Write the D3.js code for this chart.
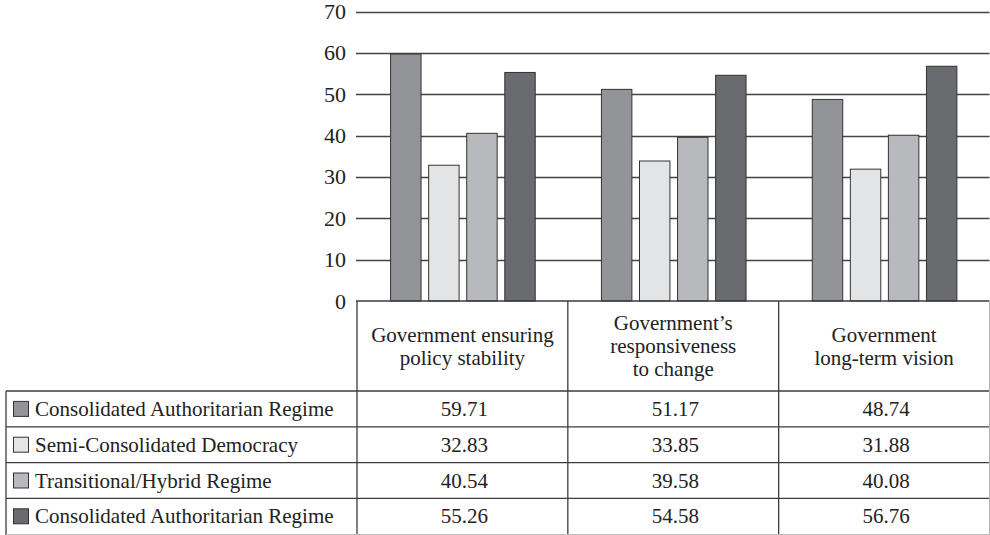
<!DOCTYPE html>
<html>
<head>
<meta charset="utf-8">
<script src="https://cdn.jsdelivr.net/npm/d3@7"></script>
<style>
  html, body { margin: 0; padding: 0; background: #fff; }
  svg { display: block; font-family: "Liberation Serif", "Times New Roman", serif; }
</style>
</head>
<body>
<svg id="chart" width="990" height="535"></svg>
<script>
// Survey indicators (columns of the chart and the table)
const categories = ["policy", "responsiveness", "vision"];
const categoryLabels = [
  ["Government ensuring", "policy stability"],
  ["Government\u2019s", "responsiveness", "to change"],
  ["Government", "long-term vision"]
];

// Regime types (rows of the table)
const seriesNames = [
  "Consolidated Authoritarian Regime",
  "Semi-Consolidated Democracy",
  "Transitional/Hybrid Regime",
  "Consolidated Authoritarian Regime"
];

// Scores per regime type, one value per indicator
const seriesA = [59.71, 51.17, 48.74];
const seriesB = [32.83, 33.85, 31.88];
const seriesC = [40.54, 39.58, 40.08];
const seriesD = [55.26, 54.58, 56.76];
const seriesValues = [seriesA, seriesB, seriesC, seriesD];

const yTicks = [0, 10, 20, 30, 40, 50, 60, 70];

const fills = ["#939497", "#e3e4e6", "#b8b9bc", "#6a6b6f"];
const ink = "#222";
const lineCol = "#3c3c3c";
const serif = "'Liberation Serif', 'Times New Roman', serif";

const svg = d3.select("#chart");

// layout
const plotLeft = 357, plotRight = 989.5;
const yTop = 11.5, yZero = 301;
const tableLeft = 6;
const headerBottom = 391;
const rowH = 35.8;

const x0 = d3.scaleBand().domain(categories).range([plotLeft, plotRight]).paddingInner(0).paddingOuter(0);
const x1 = d3.scaleBand().domain(d3.range(seriesNames.length))
  .range([0, x0.bandwidth()]).paddingInner(0.2).paddingOuter(0.87);
const y = d3.scaleLinear().domain([0, 70]).range([yZero, yTop]);

// gridlines
svg.append("g").selectAll("line").data(yTicks.filter(d => d > 0)).join("line")
  .attr("x1", plotLeft - 1).attr("x2", plotRight)
  .attr("y1", d => Math.round(y(d)) + 0.5).attr("y2", d => Math.round(y(d)) + 0.5)
  .attr("stroke", "#444").attr("stroke-width", 1.3);

// y axis labels
const yAxis = d3.axisLeft(y).tickValues(yTicks).tickSize(0).tickPadding(11);
const gy = svg.append("g").attr("transform", `translate(${plotLeft},0)`).call(yAxis)
  .attr("font-family", serif);
gy.select(".domain").remove();
gy.selectAll("text").attr("font-size", 22).attr("fill", ink).attr("font-family", serif);

// bars
const groups = svg.append("g").selectAll("g").data(categories).join("g")
  .attr("transform", d => `translate(${x0(d)},0)`);
groups.selectAll("rect").data((c, ci) => seriesValues.map((vals, si) => ({ si, v: vals[ci] })))
  .join("rect")
  .attr("x", d => x1(d.si) + 0.5)
  .attr("width", x1.bandwidth())
  .attr("y", d => y(d.v))
  .attr("height", d => yZero - y(d.v))
  .attr("fill", d => fills[d.si])
  .attr("stroke", "#333").attr("stroke-width", 1);

// data table
const table = svg.append("g").attr("stroke", lineCol).attr("stroke-width", 1.3);
const colEdges = [plotLeft].concat(categories.map(c => x0(c) + x0.bandwidth()));
// top of the value columns (zero line)
table.append("line").attr("x1", plotLeft - 1).attr("x2", plotRight).attr("y1", yZero).attr("y2", yZero);
// row lines
const rowTops = seriesNames.map((_, i) => headerBottom + i * rowH);
table.selectAll(".row").data(rowTops).join("line")
  .attr("x1", tableLeft).attr("x2", plotRight)
  .attr("y1", d => d).attr("y2", d => d);
// vertical lines
table.selectAll(".col").data(colEdges.slice(0, -1)).join("line")
  .attr("x1", d => d).attr("x2", d => d).attr("y1", yZero).attr("y2", 535);
table.append("line").attr("x1", tableLeft).attr("x2", tableLeft).attr("y1", headerBottom).attr("y2", 535);
// faint outer edge on the right and bottom
svg.append("line").attr("x1", plotRight).attr("x2", plotRight).attr("y1", yZero).attr("y2", 535)
  .attr("stroke", "#b5b5b5").attr("stroke-width", 1);
svg.append("line").attr("x1", tableLeft).attr("x2", plotRight).attr("y1", 534.5).attr("y2", 534.5)
  .attr("stroke", "#bdbdbd").attr("stroke-width", 1);

// header labels
const headerMid = 346, lineStep = 23;
categories.forEach((c, ci) => {
  const lines = categoryLabels[ci];
  const cx = x0(c) + x0.bandwidth() / 2;
  svg.append("text").attr("x", cx).attr("text-anchor", "middle")
    .attr("font-size", 21).attr("fill", ink).attr("font-family", serif)
    .selectAll("tspan").data(lines).join("tspan")
    .attr("x", cx)
    .attr("y", (d, i) => headerMid + (i - (lines.length - 1) / 2) * lineStep + 7.3)
    .text(d => d);
});

// row labels with swatches, and values
seriesNames.forEach((name, si) => {
  const top = rowTops[si];
  const mid = top + rowH / 2;
  svg.append("rect").attr("x", 13.5).attr("y", mid - 7.5).attr("width", 15).attr("height", 15)
    .attr("fill", fills[si]).attr("stroke", "#333").attr("stroke-width", 1);
  svg.append("text").attr("x", 35).attr("y", mid + 7)
    .attr("font-size", 21).attr("fill", ink).attr("font-family", serif).text(name);
  categories.forEach((c, ci) => {
    svg.append("text").attr("x", x0(c) + x0.bandwidth() / 2 + 2).attr("y", mid + 7)
      .attr("text-anchor", "middle").attr("font-size", 21).attr("fill", ink)
      .attr("font-family", serif)
      .text(d3.format(".2f")(seriesValues[si][ci]));
  });
});
</script>
</body>
</html>
